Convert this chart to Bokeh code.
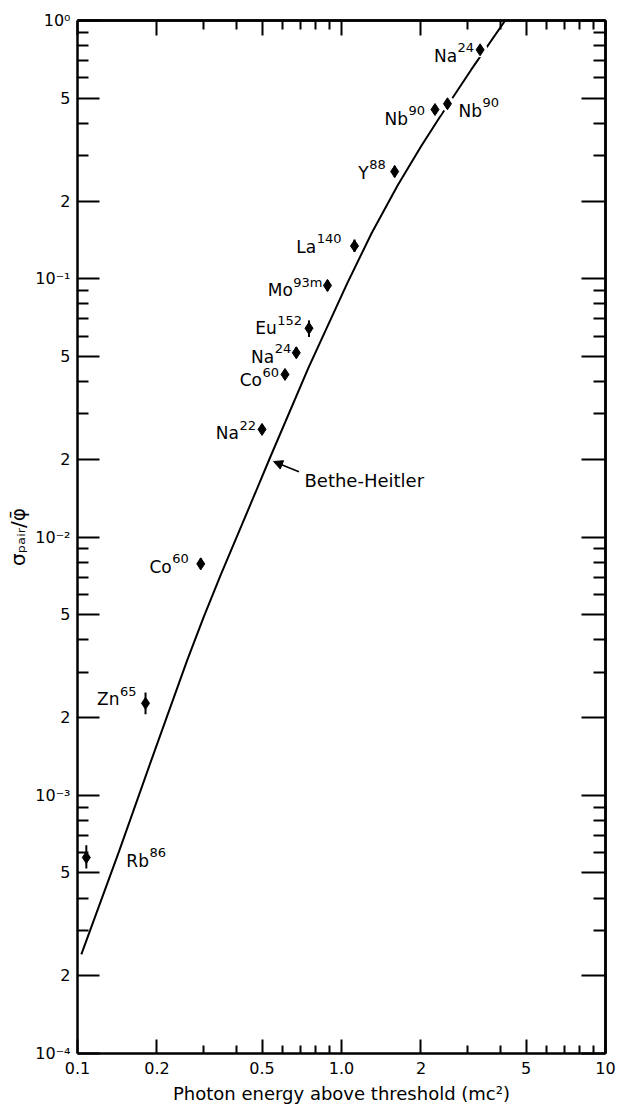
from bokeh.plotting import figure
from bokeh.models import LogAxis, FixedTicker, Arrow, NormalHead, ColumnDataSource
from bokeh.core.properties import value
from bokeh.embed import file_html
from bokeh.resources import INLINE

# ---------------- data ----------------
isotopes = ["Na", "Nb", "Nb", "Y", "La", "Mo", "Eu", "Na", "Co", "Na", "Co", "Zn", "Rb"]
mass_numbers = ["24", "90", "90", "88", "140", "93m", "152", "24", "60", "22", "60", "65", "86"]
energy = [3.35, 2.52, 2.26, 1.59, 1.12, 0.885, 0.753, 0.674, 0.611, 0.500, 0.293, 0.181, 0.108]
sigma_ratio = [0.77, 0.476, 0.452, 0.26, 0.134, 0.0942, 0.0643, 0.0517, 0.0426, 0.0261,
               0.00787, 0.00227, 0.000574]
sigma_lo = [0.745, 0.458, 0.433, 0.247, 0.127, 0.0895, 0.0595, 0.0493, 0.0412, 0.0249,
            0.0075, 0.00206, 0.00052]
sigma_hi = [0.795, 0.495, 0.472, 0.274, 0.142, 0.0990, 0.0690, 0.0543, 0.0440, 0.0274,
            0.0083, 0.00250, 0.00064]

bh_energy = [0.1034, 0.144, 0.191, 0.26, 0.301, 0.35, 0.462, 0.533, 0.75, 1.051,
             1.30, 1.633, 2.00, 2.355, 3.10, 4.17]
bh_sigma = [2.42e-4, 6.1e-4, 1.38e-3, 3.32e-3, 4.92e-3, 7.2e-3, 0.0141, 0.0200, 0.0453,
            0.0960, 0.150, 0.230, 0.325, 0.422, 0.645, 1.0]

x_tick_values = [0.1, 0.2, 0.5, 1.0, 2.0, 5.0, 10.0]
x_tick_labels = ["0.1", "0.2", "0.5", "1.0", "2", "5", "10"]
x_minor_values = [0.3, 0.4, 0.6, 0.7, 0.8, 0.9, 3.0, 4.0, 6.0, 7.0, 8.0, 9.0]

y_tick_values = [1e-4, 2e-4, 5e-4, 1e-3, 2e-3, 5e-3, 1e-2, 2e-2, 5e-2, 1e-1, 2e-1, 5e-1, 1.0]
y_tick_labels = ["10⁻⁴", "2", "5", "10⁻³", "2", "5", "10⁻²", "2", "5", "10⁻¹", "2", "5", "10⁰"]
y_minor_values = [3e-4, 4e-4, 6e-4, 7e-4, 8e-4, 9e-4,
                  3e-3, 4e-3, 6e-3, 7e-3, 8e-3, 9e-3,
                  3e-2, 4e-2, 6e-2, 7e-2, 8e-2, 9e-2,
                  3e-1, 4e-1, 6e-1, 7e-1, 8e-1, 9e-1]

x_label = "Photon energy above threshold (mc²)"
y_label = "σₚₐᵢᵣ/φ̄"
curve_label = "Bethe-Heitler"

# ---------------- layout / style constants ----------------
FONT = "DejaVu Sans"
BASE_PX = 17
SUP_PX = 13
label_side = ["L", "R", "L", "L", "L", "L", "L", "L", "L", "L", "L", "L", "R"]
label_gap = [6, 11, 10, 9, 13, 5, 7, 5, 6, 6, 12, 9, 40]
label_dy = [6, 7, 9, 1, 1, 5, 0, 4, 6, 4, 3, -4, 3]
halo_idx = [0, 1, 2]
curve_text_pos = (0.724, 0.01655)
arrow_from = (0.69, 0.0179)
arrow_to = (0.553, 0.0196)

CW = {"N": .748, "a": .613, "b": .635, "Y": .611, "L": .557, "M": .863, "o": .612,
      "E": .632, "u": .634, "C": .698, "Z": .685, "n": .634, "R": .695, "m": .974}


def text_w(s, px):
    return sum(CW.get(c, .636) for c in s) * px


p = figure(x_axis_type="log", y_axis_type="log", x_range=(0.1, 10), y_range=(1e-4, 1),
           width=618, height=1109, output_backend="svg", toolbar_location=None,
           min_border_left=77, min_border_right=13, min_border_top=20, min_border_bottom=56)
p.outline_line_color = None
p.xgrid.visible = False
p.ygrid.visible = False
p.background_fill_color = "white"
p.border_fill_color = "white"

xt = FixedTicker(ticks=x_tick_values, minor_ticks=x_minor_values)
yt = FixedTicker(ticks=y_tick_values, minor_ticks=y_minor_values)


def style_axis(ax, major, minor):
    ax.axis_line_width = 2.5
    ax.axis_line_color = "black"
    ax.major_tick_line_width = 2
    ax.minor_tick_line_width = 2
    ax.major_tick_line_color = "black"
    ax.minor_tick_line_color = "black"
    ax.major_tick_in = major
    ax.major_tick_out = 0
    ax.minor_tick_in = minor
    ax.minor_tick_out = 0


xa = p.xaxis[0]
xa.ticker = xt
style_axis(xa, 14, 8)
xa.major_label_overrides = dict(zip(x_tick_values, x_tick_labels))
xa.major_label_text_font = FONT
xa.major_label_text_font_size = "16px"
xa.major_label_text_color = "black"
xa.major_label_standoff = 8
xa.axis_label = x_label
xa.axis_label_text_font = FONT
xa.axis_label_text_font_size = "18px"
xa.axis_label_text_font_style = "normal"
xa.axis_label_text_color = "black"
xa.axis_label_standoff = 6

ya = p.yaxis[0]
ya.ticker = yt
style_axis(ya, 22, 11)
ya.major_label_overrides = dict(zip(y_tick_values, y_tick_labels))
ya.major_label_text_font = FONT
ya.major_label_text_font_size = "16px"
ya.major_label_text_color = "black"
ya.major_label_standoff = 7
ya.axis_label = y_label
ya.axis_label_text_font = FONT
ya.axis_label_text_font_size = "20px"
ya.axis_label_text_font_style = "normal"
ya.axis_label_text_color = "black"
ya.axis_label_standoff = 2

# mirrored tick marks on the top and right edges (tick marks only, no labels)
for vals, ln in ((x_tick_values, 15), (x_minor_values, 9)):
    ax = LogAxis(ticker=FixedTicker(ticks=[], minor_ticks=vals))
    style_axis(ax, 0, ln)
    p.add_layout(ax, "above")
for vals, ln in ((y_tick_values, 24), (y_minor_values, 12)):
    ax = LogAxis(ticker=FixedTicker(ticks=[], minor_ticks=vals))
    style_axis(ax, 0, ln)
    p.add_layout(ax, "right")

# Bethe-Heitler curve
p.line(bh_energy, bh_sigma, line_color="black", line_width=2)

# halos breaking the curve at the points lying on it
p.scatter([energy[i] for i in halo_idx], [sigma_ratio[i] for i in halo_idx],
          marker="circle", size=15, fill_color="white", line_color=None)

# error bars and points
p.segment(x0=energy, y0=sigma_lo, x1=energy, y1=sigma_hi, line_color="black", line_width=2)
p.scatter(energy, sigma_ratio, marker="diamond", size=12, color="black")

# isotope labels (base + superscript)
bx, by, btxt, bxo, byo = [], [], [], [], []
sx, sy, stxt, sxo, syo = [], [], [], [], []
for i in range(len(energy)):
    bw = text_w(isotopes[i], BASE_PX)
    sw = text_w(mass_numbers[i], SUP_PX)
    if label_side[i] == "L":
        sup_left = -label_gap[i] - sw
        base_left = sup_left - bw - 0.5
    else:
        base_left = label_gap[i]
        sup_left = base_left + bw + 0.5
    bx.append(energy[i]); by.append(sigma_ratio[i]); btxt.append(isotopes[i])
    bxo.append(base_left); byo.append(label_dy[i])
    sx.append(energy[i]); sy.append(sigma_ratio[i]); stxt.append(mass_numbers[i])
    sxo.append(sup_left); syo.append(label_dy[i] - 8)

base_src = ColumnDataSource(dict(x=bx, y=by, text=btxt, xo=bxo, yo=byo))
sup_src = ColumnDataSource(dict(x=sx, y=sy, text=stxt, xo=sxo, yo=syo))
p.text(x="x", y="y", text="text", x_offset="xo", y_offset="yo", source=base_src,
       text_font=value(FONT), text_font_size=f"{BASE_PX}px", text_align="left",
       text_baseline="alphabetic", text_color="black")
p.text(x="x", y="y", text="text", x_offset="xo", y_offset="yo", source=sup_src,
       text_font=value(FONT), text_font_size=f"{SUP_PX}px", text_align="left",
       text_baseline="alphabetic", text_color="black")

# Bethe-Heitler annotation
p.text(x=[curve_text_pos[0]], y=[curve_text_pos[1]], text=[curve_label],
       text_font=value(FONT), text_font_size="18px", text_align="left",
       text_baseline="alphabetic", text_color="black")
p.add_layout(Arrow(end=NormalHead(size=9, fill_color="black", line_color="black"),
                   x_start=arrow_from[0], y_start=arrow_from[1],
                   x_end=arrow_to[0], y_end=arrow_to[1],
                   line_color="black", line_width=1.5))

open("out.html", "w").write(file_html(p, INLINE))
